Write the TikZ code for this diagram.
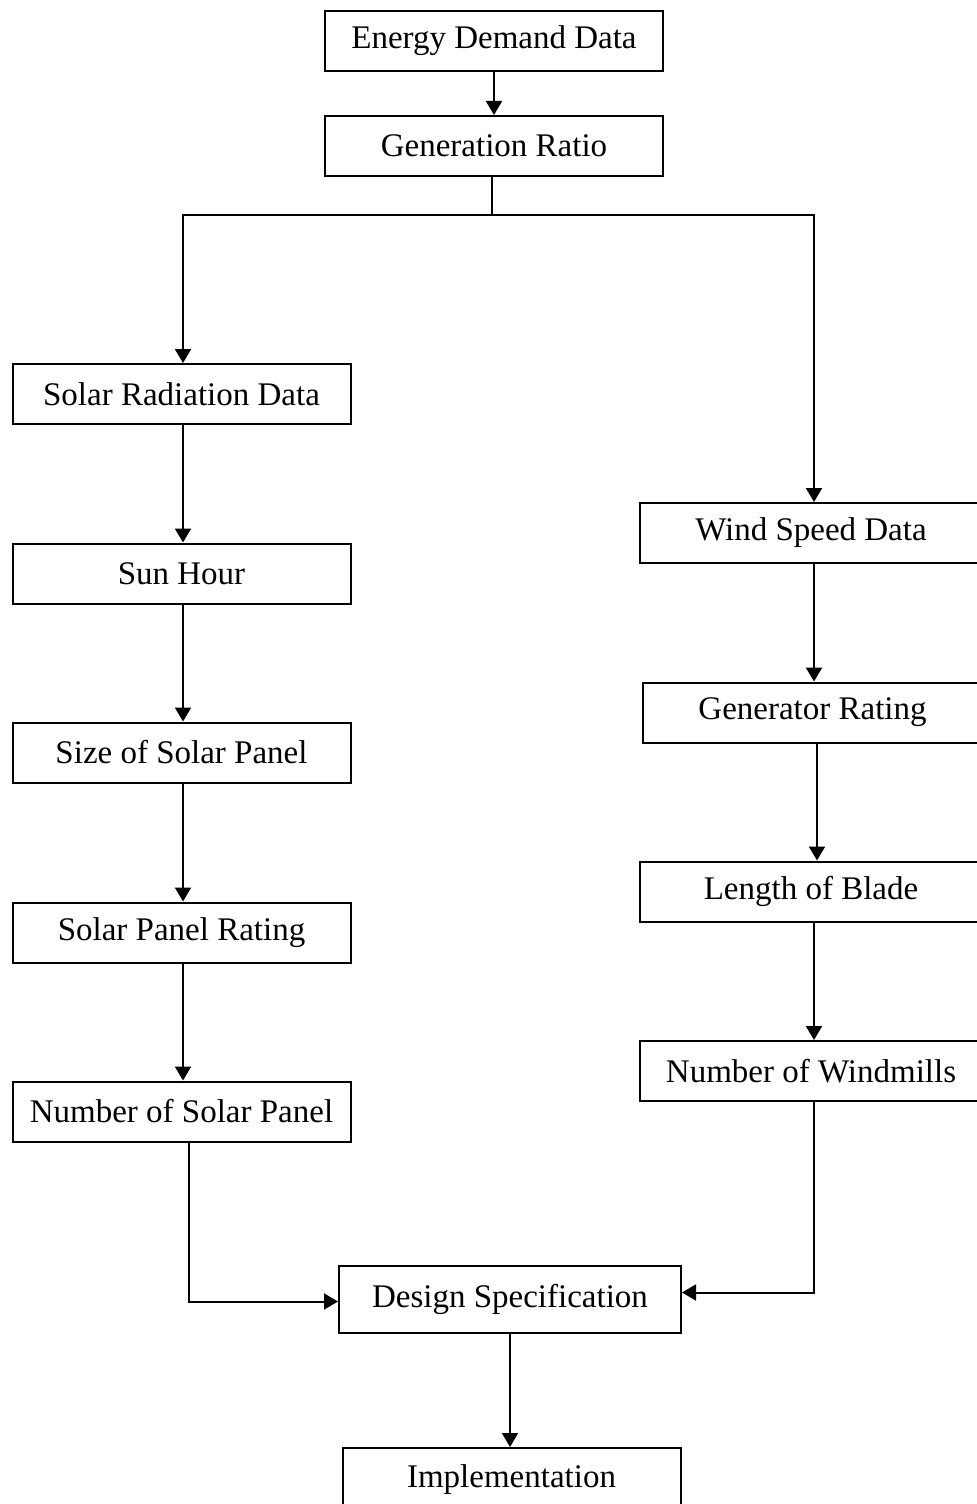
\documentclass[tikz,border=0pt]{standalone}
\usepackage{fontspec}
\setmainfont{Liberation Serif}
\usepackage{tikz}
\usetikzlibrary{arrows.meta}
\tikzstyle{stageBox}=[shape = rectangle, draw, line width = 1pt, minimum width = 169pt, minimum height = 30pt, inner sep = 0pt, font = \fontsize{16.5}{19}\selectfont]
\tikzstyle{flowArrow}=[line width = 1pt, -{Triangle[length = 7pt, width = 8pt]}]

\begin{document}
\begin{tikzpicture}[x = 0.5pt, y = -0.5pt]
\useasboundingbox (0,0) rectangle (977,1504);
%\draw[help lines] (0,0) grid[step = 50] (977,1504);
\coordinate (leftcol) at (183,0);
\coordinate (rightcol) at (814,0);
\coordinate (soldrop) at (189,0);
\coordinate (split) at (492,215);
% top
\node[stageBox] (energy) at (494,41) {Energy Demand Data};
\node[stageBox] (ratio) at (494,146) {Generation Ratio};
% solar side
\node[stageBox] (solar) at (181.5,394) {Solar Radiation Data};
\node[stageBox] (sunhour) at (181.5,573.5) {Sun Hour};
\node[stageBox] (panelsize) at (181.5,752.5) {Size of Solar Panel};
\node[stageBox] (panelrating) at (181.5,932.5) {Solar Panel Rating};
\node[stageBox] (panelcount) at (181.5,1111.5) {Number of Solar Panel};
% wind side (boxes run past the right edge)
\node[stageBox, minimum width = 171pt] (wind) at (811,533) {Wind Speed Data};
\node[stageBox, minimum width = 169.5pt] (genrating) at (812.5,712.5) {Generator Rating};
\node[stageBox, minimum width = 171pt] (blade) at (811,891.5) {Length of Blade};
\node[stageBox, minimum width = 171pt] (millcount) at (811,1071) {Number of Windmills};
% bottom
\node[stageBox, minimum width = 171pt, minimum height = 33.5pt] (design) at (510,1299.5) {Design Specification};
\node[stageBox, minimum height = 32pt] (impl) at (511.5,1480) {Implementation};
\draw[flowArrow] (energy) -- (ratio);
\draw[line width = 1pt] (ratio.south -| split) -- (split);
\draw[flowArrow] (split) -| (solar.north -| leftcol);
\draw[flowArrow] (split) -| (wind.north -| rightcol);
\draw[flowArrow] (solar.south -| leftcol) -- (sunhour.north -| leftcol);
\draw[flowArrow] (sunhour.south -| leftcol) -- (panelsize.north -| leftcol);
\draw[flowArrow] (panelsize.south -| leftcol) -- (panelrating.north -| leftcol);
\draw[flowArrow] (panelrating.south -| leftcol) -- (panelcount.north -| leftcol);
\draw[flowArrow] (wind.south -| rightcol) -- (genrating.north -| rightcol);
\draw[flowArrow] ([xshift = 1.5pt]genrating.south -| rightcol) -- ([xshift = 1.5pt]blade.north -| rightcol);
\draw[flowArrow] (blade.south -| rightcol) -- (millcount.north -| rightcol);
\draw[flowArrow] (panelcount.south -| soldrop) |- ([yshift = -1pt]design.west);
\draw[flowArrow] (millcount.south -| rightcol) |- ([yshift = 3.5pt]design.east);
\draw[flowArrow] (design.south) -- (design.south |- impl.north);
\end{tikzpicture}
\end{document}
